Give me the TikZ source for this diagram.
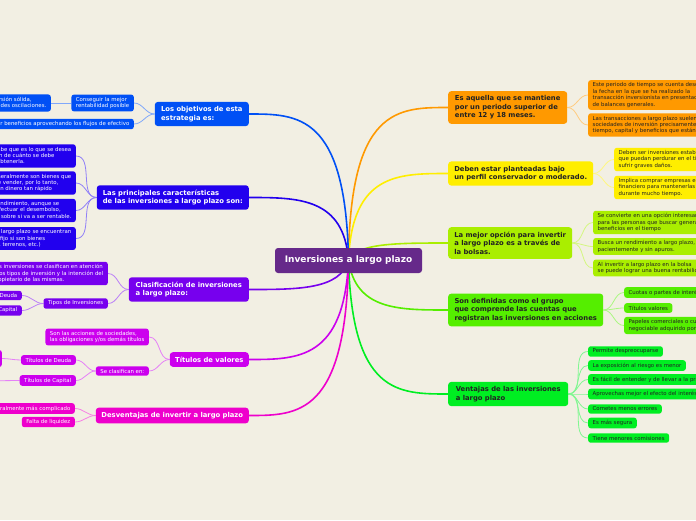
\documentclass[tikz,border=0pt]{standalone}
\usepackage{fontspec}
\setmainfont{DejaVu Sans}
\pgfdeclarelayer{background}
\pgfsetlayers{background,main}
\definecolor{bg}{HTML}{F2EFE3}
\definecolor{ccenter}{HTML}{66298A}
\definecolor{cblue}{HTML}{0050F5}
\definecolor{cindigo}{HTML}{2200EE}
\definecolor{cviolet}{HTML}{7700EE}
\definecolor{cpurple}{HTML}{CC00EE}
\definecolor{cmagenta}{HTML}{EE00CC}
\definecolor{corange}{HTML}{FF9900}
\definecolor{cyellow}{HTML}{FFEE00}
\definecolor{clime}{HTML}{AAEE00}
\definecolor{cgreen}{HTML}{55EE00}
\definecolor{cgreenb}{HTML}{00EE22}
\definecolor{dark}{HTML}{222222}
\tikzset{
  mainbox/.style={rounded corners=3pt, inner xsep=4pt, inner ysep=4.5pt,
    font=\fontsize{6.8}{8.5}\selectfont\bfseries, align=left},
  lmain/.style={mainbox, text=white, anchor=east},
  rmain/.style={mainbox, text=dark, anchor=west},
  kid/.style={rounded corners=2.5pt, inner xsep=4.5pt, inner ysep=2.6pt,
    font=\fontsize{5.4}{6.4}\selectfont, align=left},
  lkid/.style={kid, text=white, anchor=east},
  rkid/.style={kid, text=dark, anchor=west},
  trunk/.style={line width=1.6pt},
  twig/.style={line width=0.8pt},
}
\begin{document}
\begin{tikzpicture}[x=1pt,y=-1pt]
\useasboundingbox (0,0) rectangle (696,520);
\begin{pgfonlayer}{background}
\fill[bg] (0,0) rectangle (696,520);
\end{pgfonlayer}
\clip (0,0) rectangle (696,520);

% centre
\node[fill=ccenter, text=white, rounded corners=3pt, minimum width=147pt, minimum height=25pt,
  font=\fontsize{9}{10}\selectfont\bfseries] (C) at (348.5,260.5) {Inversiones a largo plazo};

% ---------- right side ----------
\node[rmain, fill=corange, minimum width=119pt] (r1) at (448,107.5)
  {Es aquella que se mantiene\\por un periodo superior de\\entre 12 y 18 meses.};
\node[rkid, fill=corange] (r1a) at (588,95)
  {Este periodo de tiempo se cuenta desde\\la fecha en la que se ha realizado la\\transacción inversionista en presentación\\de balances generales.};
\node[rkid, fill=corange] (r1b) at (588,125)
  {Las transacciones a largo plazo suelen realizarlas las\\sociedades de inversión precisamente por el\\tiempo, capital y beneficios que están en juego.};

\node[rmain, fill=cyellow, minimum width=145pt] (r2) at (448,173.5)
  {Deben estar planteadas bajo\\un perfil conservador o moderado.};
\node[rkid, fill=cyellow] (r2a) at (614,159.5)
  {Deben ser inversiones estables\\que puedan perdurar en el tiempo y no\\sufrir graves daños.};
\node[rkid, fill=cyellow] (r2b) at (614,187.5)
  {Implica comprar empresas en el mercado\\financiero para mantenerlas\\durante mucho tiempo.};

\node[rmain, fill=clime, minimum width=124pt] (r3) at (448,243)
  {La mejor opción para invertir\\a largo plazo es a través de\\la bolsas.};
\node[rkid, fill=clime] (r3a) at (593,222.5)
  {Se convierte en una opción interesante\\para las personas que buscar generar\\beneficios en el tiempo};
\node[rkid, fill=clime] (r3b) at (593,246.5)
  {Busca un rendimiento a largo plazo,\\pacientemente y sin apuros.};
\node[rkid, fill=clime] (r3c) at (593,268)
  {Al invertir a largo plazo en la bolsa\\se puede lograr una buena rentabilidad};

\node[rmain, fill=cgreen, minimum width=155pt] (r4) at (448,310)
  {Son definidas como el grupo\\que comprende las cuentas que\\registran las inversiones en acciones};
\node[rkid, fill=cgreen] (r4a) at (624,292.5) {Cuotas o partes de interés social};
\node[rkid, fill=cgreen] (r4b) at (624,308) {Títulos valores};
\node[rkid, fill=cgreen] (r4c) at (624,325.5)
  {Papeles comerciales o cualquier otro título\\negociable adquirido por el ente};

\node[rmain, fill=cgreenb, minimum width=120pt] (r5) at (448,394)
  {Ventajas de las inversiones\\a largo plazo};
\node[rkid, fill=cgreenb] (r5a) at (588,351.5) {Permite despreocuparse};
\node[rkid, fill=cgreenb] (r5b) at (588,365.5) {La exposición al riesgo es menor};
\node[rkid, fill=cgreenb] (r5c) at (588,379.5) {Es fácil de entender y de llevar a la práctica};
\node[rkid, fill=cgreenb] (r5d) at (588,394) {Aprovechas mejor el efecto del interés compuesto};
\node[rkid, fill=cgreenb] (r5e) at (588,409) {Cometes menos errores};
\node[rkid, fill=cgreenb] (r5f) at (588,423) {Es más segura};
\node[rkid, fill=cgreenb] (r5g) at (588,438) {Tiene menores comisiones};

% ---------- left side ----------
\node[lmain, fill=cblue, minimum width=94pt] (l1) at (249,114)
  {Los objetivos de esta\\estrategia es:};
\node[lkid, fill=cblue] (l1a) at (134,103) {Conseguir la mejor\\rentabilidad posible};
\node[lkid, fill=cblue] (l1b) at (134,124) {Generar beneficios aprovechando los flujos de efectivo};
\node[lkid, fill=cblue] (l1c) at (51,103) {Realizar una inversión sólida,\\que no sufra grandes oscilaciones.};

\node[lmain, fill=cindigo, minimum width=152pt] (l2) at (249,197.5)
  {Las principales características\\de las inversiones a largo plazo son:};
\node[lkid, fill=cindigo] (l2a) at (76,156)
  {Cuando se sabe que es lo que se desea\\y tiene noción de cuánto se debe\\gastar para obtenerla.};
\node[lkid, fill=cindigo] (l2b) at (76,183)
  {Baja liquidez, ya que generalmente son bienes que\\los cuales son difíciles de vender, por lo tanto,\\no se pueden convertir en dinero tan rápido};
\node[lkid, fill=cindigo] (l2c) at (76,210.5)
  {Ofrecen un mayor rendimiento, aunque se\\existe un riesgo al efectuar el desembolso,\\pues no hay certeza sobre si va a ser rentable.};
\node[lkid, fill=cindigo] (l2d) at (76,238.5)
  {Las inversiones a largo plazo se encuentran\\dentro del activo fijo si son bienes\\(locales, edificios, terrenos, etc.)};

\node[lmain, fill=cviolet, minimum width=120pt] (l3) at (249,289.5)
  {Clasificación de inversiones\\a largo plazo:};
\node[lkid, fill=cviolet] (l3a) at (108,273.5)
  {Las inversiones se clasifican en atención\\a los tipos de inversión y la intención del\\propietario de las mismas.};
\node[lkid, fill=cviolet] (l3b) at (108,303.5) {Tipos de Inversiones};
\node[lkid, fill=cviolet] (l3c) at (22,295.5) {Deuda};
\node[lkid, fill=cviolet] (l3d) at (22,310.5) {Capital};

\node[lmain, fill=cpurple, minimum width=79pt] (l4) at (249,359.5) {Títulos de valores};
\node[lkid, fill=cpurple] (l4a) at (149,337)
  {Son las acciones de sociedades,\\las obligaciones y/os demás títulos};
\node[lkid, fill=cpurple] (l4b) at (149,371) {Se clasifican en:};
\node[lkid, fill=cpurple, minimum width=54pt] (l4c) at (76,360) {Títulos de Deuda};
\node[lkid, fill=cpurple, minimum width=54pt] (l4d) at (76,380.5) {Títulos de Capital};
\node[kid, fill=cpurple, anchor=east, minimum width=30pt, minimum height=17pt] (l4e) at (2,358.5) {};
\coordinate (l4f) at (-30,381);

\node[lmain, fill=cmagenta, minimum width=153pt] (l5) at (249,415.5)
  {Desventajas de invertir a largo plazo};
\node[lkid, fill=cmagenta] (l5a) at (75,408.5) {Es generalmente más complicado};
\node[lkid, fill=cmagenta] (l5b) at (75,422) {Falta de liquidez};

% ---------- connectors ----------
\begin{pgfonlayer}{background}
\draw[trunk, corange] (C.center) .. controls (350,107.5) and (398,107.5) .. (r1.west);
\draw[trunk, cyellow] (C.center) .. controls (352,173.5) and (398,173.5) .. (r2.west);
\draw[trunk, clime] (C.center) .. controls (356,243) and (398,243) .. (r3.west);
\draw[trunk, cgreen] (C.center) .. controls (356,310) and (398,310) .. (r4.west);
\draw[trunk, cgreenb] (C.center) .. controls (352,394) and (398,394) .. (r5.west);
\draw[trunk, cblue] (C.center) .. controls (346,114) and (298,114) .. (l1.east);
\draw[trunk, cindigo] (C.center) .. controls (344,197.5) and (298,197.5) .. (l2.east);
\draw[trunk, cviolet] (C.center) .. controls (340,289.5) and (298,289.5) .. (l3.east);
\draw[trunk, cpurple] (C.center) .. controls (344,359.5) and (298,359.5) .. (l4.east);
\draw[trunk, cmagenta] (C.center) .. controls (346,415.5) and (298,415.5) .. (l5.east);

\foreach \k in {a,b} \draw[twig, corange!50] (r1.east) to[out=0,in=180] (r1\k.west);
\foreach \k in {a,b} \draw[twig, cyellow!50] (r2.east) to[out=0,in=180] (r2\k.west);
\foreach \k in {a,b,c} \draw[twig, clime!50] (r3.east) to[out=0,in=180] (r3\k.west);
\foreach \k in {a,b,c} \draw[twig, cgreen!50] (r4.east) to[out=0,in=180] (r4\k.west);
\foreach \k in {a,b,c,d,e,f,g} \draw[twig, cgreenb!50] (r5.east) to[out=0,in=180] (r5\k.west);

\foreach \k in {a,b} \draw[twig, cblue!50] (l1.west) to[out=180,in=0] (l1\k.east);
\draw[twig, cblue!50] (l1a.west) -- (l1c.east);
\foreach \k in {a,b,c,d} \draw[twig, cindigo!50] (l2.west) to[out=180,in=0] (l2\k.east);
\foreach \k in {a,b} \draw[twig, cviolet!50] (l3.west) to[out=180,in=0] (l3\k.east);
\foreach \k in {c,d} \draw[twig, cviolet!50] (l3b.west) to[out=180,in=0] (l3\k.east);
\foreach \k in {a,b} \draw[twig, cpurple!50] (l4.west) to[out=180,in=0] (l4\k.east);
\foreach \k in {c,d} \draw[twig, cpurple!50] (l4b.west) to[out=180,in=0] (l4\k.east);
\draw[twig, cpurple!50] (l4c.west) to[out=180,in=0] (l4e.east);
\draw[twig, cpurple!50] (l4d.west) -- (l4f);
\foreach \k in {a,b} \draw[twig, cmagenta!50] (l5.west) to[out=180,in=0] (l5\k.east);
\end{pgfonlayer}
\end{tikzpicture}
\end{document}
